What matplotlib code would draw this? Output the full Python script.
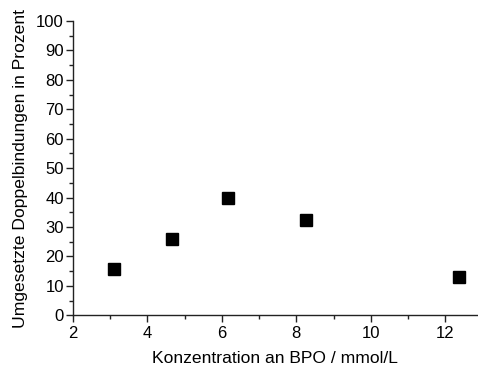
import matplotlib
matplotlib.use('Agg')
import matplotlib.pyplot as plt
from matplotlib.ticker import MultipleLocator

# Data
konzentration = [3.09, 4.66, 6.16, 8.25, 12.38]
umsatz = [15.7, 26.0, 40.0, 32.5, 13.1]

plt.rcParams['font.family'] = ['Liberation Sans', 'DejaVu Sans']
plt.rcParams['font.size'] = 12

fig = plt.figure(figsize=(4.78, 3.67), dpi=100)
ax = fig.add_axes([0.1527, 0.141, 0.845, 0.802])

ax.plot(konzentration, umsatz, 's', color='black', markersize=8.3, linestyle='none')

ax.set_xlim(2, 12.85)
ax.set_ylim(0, 100)
ax.xaxis.set_major_locator(MultipleLocator(2))
ax.xaxis.set_minor_locator(MultipleLocator(1))
ax.yaxis.set_major_locator(MultipleLocator(10))
ax.yaxis.set_minor_locator(MultipleLocator(5))

ax.spines['top'].set_visible(False)
ax.spines['right'].set_visible(False)
for s in ['left', 'bottom']:
    ax.spines[s].set_linewidth(1.0)
    ax.spines[s].set_color('#222222')

ax.tick_params(which='major', direction='out', length=5, width=1, labelsize=12,
               pad=1.5, color='#222222')
ax.tick_params(axis='x', which='major', pad=3)
ax.tick_params(which='minor', direction='out', length=3, width=1, color='#222222')

ax.set_xlabel('Konzentration an BPO / mmol/L', fontsize=12.6, labelpad=7)
ax.set_ylabel('Umgesetzte Doppelbindungen in Prozent', fontsize=12.6, labelpad=6)

fig.savefig('out.png', dpi=100)
